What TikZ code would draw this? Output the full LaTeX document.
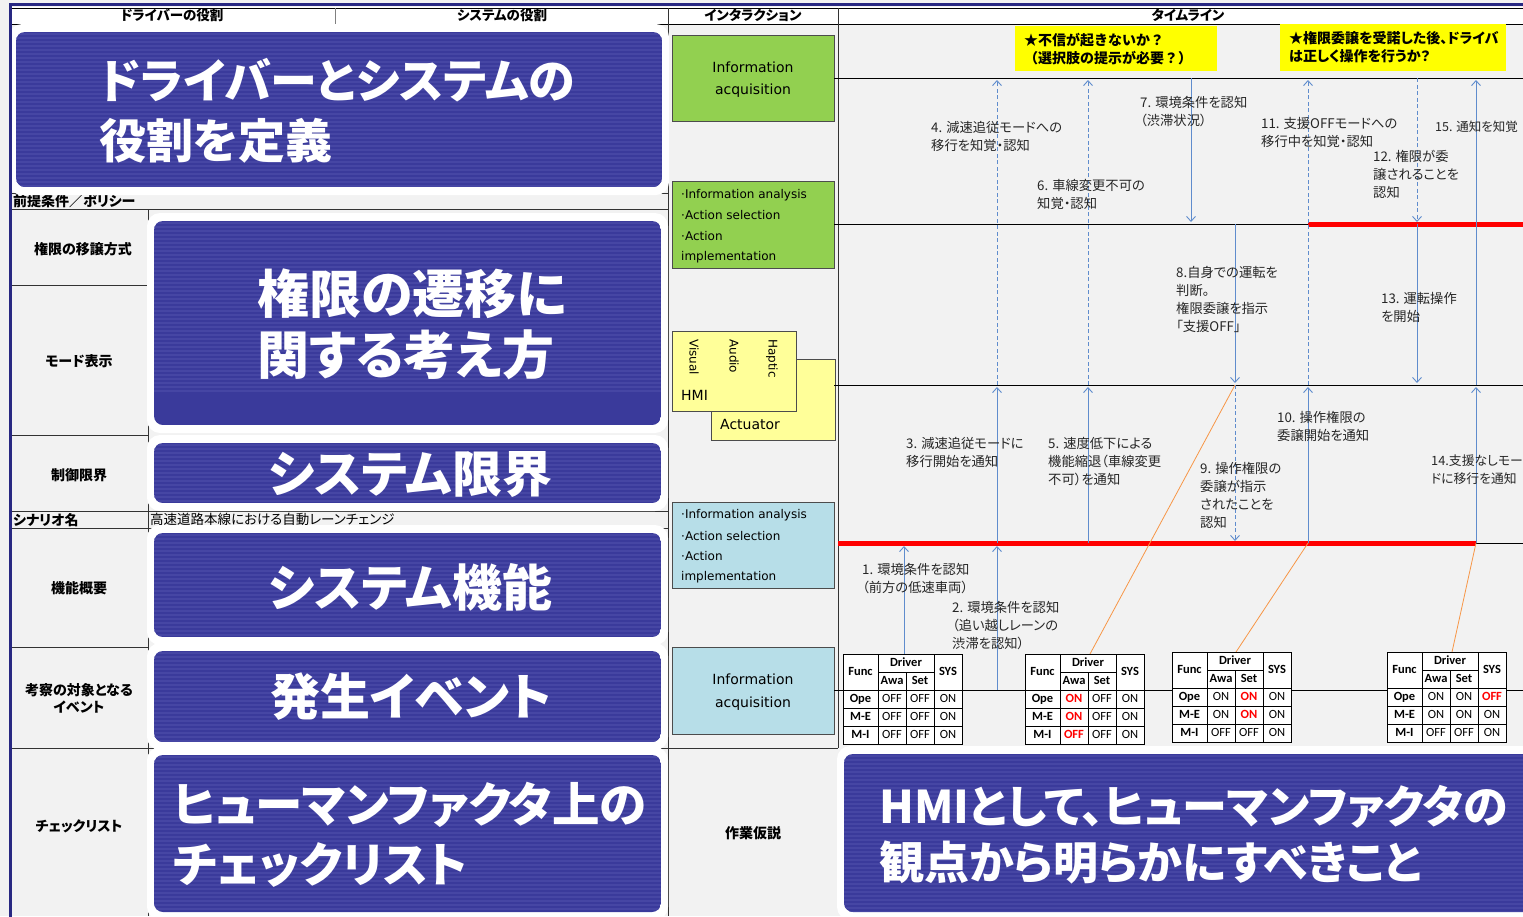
\documentclass[tikz,border=0pt]{standalone}
\usepackage{fontspec}
\setmainfont[RawFeature=+palt]{Noto Sans CJK JP}
\newfontfamily\bigjp[RawFeature=+palt]{Noto Sans CJK JP}
\newfontfamily\fulljp{Noto Sans CJK JP}
\newfontfamily\calf{Carlito}
\newfontfamily\verd{DejaVu Sans}
\usetikzlibrary{arrows.meta}
\definecolor{bg}{RGB}{242,242,242}
\definecolor{navy}{RGB}{58,58,155}
\definecolor{stripe}{RGB}{70,70,164}
\definecolor{framec}{RGB}{40,40,130}
\definecolor{gbox}{RGB}{146,208,80}
\definecolor{bbox}{RGB}{183,222,232}
\definecolor{ybox}{RGB}{255,255,153}
\definecolor{notec}{RGB}{255,255,0}
\definecolor{arrblue}{RGB}{95,140,205}
\definecolor{orng}{RGB}{247,150,70}
\definecolor{redon}{RGB}{255,0,0}
\newcommand{\redv}[1]{\textcolor{redon}{\bfseries #1}}
\newcommand{\bluepanel}[4]{%
  \fill[white, rounded corners=13pt] ({#1-7},{#2-8}) rectangle ({#3+7},{#4+8});
  \begin{scope}
    \clip[rounded corners=9pt] (#1,#2) rectangle (#3,#4);
    \fill[navy] (#1,#2) rectangle (#3,#4);
    \foreach \k in {2,6,...,170} {\draw[stripe, line width=1.2pt] (#1,{#2+\k}) -- (#3,{#2+\k});}
  \end{scope}}
\newcommand{\htab}[6]{%
  \begin{scope}[shift={(#2,#3)}]
    \fill[white] (0,0) rectangle (119,90);
    \draw[tl] (0,0) rectangle (119,90) (35,0) -- (35,90) (91,0) -- (91,90) (63,18) -- (63,90)
      (35,18) -- (91,18) (0,36) -- (119,36) (0,54) -- (119,54) (0,72) -- (119,72);
    \node[th] (#1fn) at (17.5,18) {Func};
    \node[th] (#1dr) at (63,9) {Driver};
    \node[th] (#1sy) at (105,18) {SYS};
    \node[th] (#1aw) at (49,27) {Awa};
    \node[th] (#1st) at (77,27) {Set};
    \node[th] (#1r1) at (17.5,45) {Ope};
    \node[th] (#1r2) at (17.5,63) {M-E};
    \node[th] (#1r3) at (17.5,81) {M-I};
    \foreach \v [count=\c] in {#4} {\node[td] (#1a\c) at ({21+28*\c},45) {\v};}
    \foreach \v [count=\c] in {#5} {\node[td] (#1b\c) at ({21+28*\c},63) {\v};}
    \foreach \v [count=\c] in {#6} {\node[td] (#1c\c) at ({21+28*\c},81) {\v};}
  \end{scope}}
\begin{document}
\begin{tikzpicture}[x=1pt,y=-1pt,
  lbl/.style={anchor=north west, inner sep=0, align=left, font=\fontsize{13.3}{18}\selectfont, text=black!85},
  rowlab/.style={inner sep=0, font=\fontsize{14}{17}\selectfont\bfseries, align=center},
  hdr/.style={inner sep=0, font=\fontsize{13.5}{15}\selectfont\bfseries},
  bigt/.style={anchor=west, inner sep=0, text=white},
  flow/.style={draw=arrblue, line width=0.9pt, -{Straight Barb[length=5pt,width=9pt]}},
  flowd/.style={flow, dash pattern=on 4pt off 2.5pt},
  oline/.style={draw=orng, line width=0.8pt},
  tl/.style={draw=black, line width=0.9pt},
  th/.style={inner sep=0, text height=8pt, text depth=2pt, font=\calf\fontsize{12.5}{12}\selectfont\bfseries},
  td/.style={inner sep=0, text height=8pt, text depth=2pt, font=\calf\fontsize{12.5}{12}\selectfont},
  ibox/.style={draw=black!70, line width=0.9pt, anchor=north west, inner sep=0},
  itxt/.style={inner sep=0, font=\verd\fontsize{14}{16}\selectfont},
  btxt/.style={anchor=west, inner sep=0, font=\verd\fontsize{12}{14}\selectfont},
  notet/.style={anchor=west, inner sep=0, font=\fontsize{14}{15}\selectfont\bfseries},
]
\useasboundingbox (0,0) rectangle (1523,916);
\fill[bg] (0,0) rectangle (1523,916);
\begin{scope}
\clip (0,0) rectangle (1523,916);
% header row
\fill[white] (10,7) rectangle (1523,24);
\draw[black, line width=0.8pt] (10,8) -- (1523,8) (10,24) -- (1523,24);
\draw[black!50, line width=0.6pt] (335,8) -- (335,24);
\draw[black!80, line width=1pt] (668,8) -- (668,916) (838,8) -- (838,748);
\node[hdr] (h1) at (172,15) {ドライバーの役割};
\node[hdr] (h2) at (502,15) {システムの役割};
\node[hdr] (h3) at (753,15) {インタラクション};
\node[hdr] (h4) at (1188,15) {タイムライン};
% left structure lines
\draw[black!80, line width=1pt] (10,193) -- (668,193) (10,209) -- (668,209) (148,209) -- (148,916)
  (10,285) -- (148,285) (10,435) -- (148,435) (10,511) -- (668,511) (10,528) -- (668,528)
  (10,647) -- (148,647) (10,748) -- (838,748);
% scenario row
\fill[bg] (149,512) rectangle (667,527);
\node[rowlab, anchor=west] (pre) at (13,201) {前提条件／ポリシー};
\node[rowlab, anchor=west] (scn) at (13,520) {シナリオ名};
\node[anchor=west, inner sep=0, font=\fontsize{13.5}{15}\selectfont] (scnv) at (150,519) {高速道路本線における自動レーンチェンジ};
\node[rowlab] (r1) at (83,249) {権限の移譲方式};
\node[rowlab] (r2) at (79,361) {モード表示};
\node[rowlab] (r3) at (79,475) {制御限界};
\node[rowlab] (r4) at (79,588) {機能概要};
\node[rowlab] (r5) at (79,698) {考察の対象となる\\イベント};
\node[rowlab] (r6) at (79,826) {チェックリスト};
\node[rowlab] (r7) at (753,833) {作業仮説};
% interaction boxes
\node[ibox, fill=gbox, minimum width=162, minimum height=86] (ia1) at (672,35) {};
\node[itxt] (ia1a) at (753,67) {Information};
\node[itxt] (ia1b) at (753,91) {acquisition};
\node[ibox, fill=gbox, minimum width=162, minimum height=87] (ia2) at (672,181) {};
\node[btxt] (ia2a) at (681,195) {·Information analysis};
\node[btxt] (ia2b) at (681,215) {·Action selection};
\node[btxt] (ia2c) at (681,236) {·Action};
\node[btxt] (ia2d) at (681,257) {implementation};
\node[ibox, fill=ybox, minimum width=124, minimum height=81] (act) at (711,359) {};
\node[ibox, fill=ybox, minimum width=124, minimum height=80] (hmi) at (672,331) {};
\node[itxt, anchor=west] (acta) at (720,424) {Actuator};
\node[itxt, anchor=west] (hmia) at (681,395) {HMI};
\node[rotate=-90, anchor=west, inner sep=0, font=\verd\fontsize{12}{12}\selectfont] (hv) at (694,339) {Visual};
\node[rotate=-90, anchor=west, inner sep=0, font=\verd\fontsize{12}{12}\selectfont] (ha) at (734,339) {Audio};
\node[rotate=-90, anchor=west, inner sep=0, font=\verd\fontsize{12}{12}\selectfont] (hh) at (772,339) {Haptic};
\node[ibox, fill=bbox, minimum width=162, minimum height=86] (ib1) at (672,502) {};
\node[btxt] (ib1a) at (681,515) {·Information analysis};
\node[btxt] (ib1b) at (681,536) {·Action selection};
\node[btxt] (ib1c) at (681,556) {·Action};
\node[btxt] (ib1d) at (681,577) {implementation};
\node[ibox, fill=bbox, minimum width=162, minimum height=87] (ib2) at (672,647) {};
\node[itxt] (ib2a) at (753,679) {Information};
\node[itxt] (ib2b) at (753,704) {acquisition};
% timeline lines
\draw[black, line width=0.9pt] (834,78) -- (1523,78) (834,224) -- (1308,224) (834,385) -- (1523,385)
  (1476,543) -- (1523,543) (834,690) -- (1523,690);
\draw[redon, line width=5pt] (1308,224) -- (1530,224) (838,543) -- (1476,543);
% notes
\node[fill=notec, anchor=north west, minimum width=202, minimum height=45, inner sep=0] (n1) at (1015,26) {};
\node[notet, font=\fulljp\fontsize{14}{15}\selectfont\bfseries] (n1a) at (1024,40) {★不信が起きないか？};
\node[notet, font=\fulljp\fontsize{14}{15}\selectfont\bfseries] (n1b) at (1024,58) {（選択肢の提示が必要？）};
\node[fill=notec, anchor=north west, minimum width=226, minimum height=47, inner sep=0] (n2) at (1280,24) {};
\node[notet] (n2a) at (1289,38) {★権限委譲を受諾した後、ドライバ};
\node[notet] (n2b) at (1289,56) {は正しく操作を行うか？};
% arrows
\coordinate (a1s) at (904,654); \coordinate (a1e) at (904,546);
\coordinate (a2s) at (997,690); \coordinate (a2e) at (997,546);
\coordinate (a3s) at (997,543); \coordinate (a3e) at (997,387);
\coordinate (a4s) at (997,385); \coordinate (a4e) at (997,80);
\coordinate (a5s) at (1088,543); \coordinate (a5e) at (1088,387);
\coordinate (a6s) at (1088,385); \coordinate (a6e) at (1088,80);
\coordinate (a7s) at (1191,78); \coordinate (a7e) at (1191,222);
\coordinate (a8s) at (1235,224); \coordinate (a8e) at (1235,383);
\coordinate (a9s) at (1235,385); \coordinate (a9e) at (1235,541);
\coordinate (a10s) at (1308,543); \coordinate (a10e) at (1308,387);
\coordinate (a11s) at (1308,385); \coordinate (a11e) at (1308,80);
\coordinate (a12s) at (1417,78); \coordinate (a12e) at (1417,222);
\coordinate (a13s) at (1417,224); \coordinate (a13e) at (1417,383);
\coordinate (a14s) at (1476,543); \coordinate (a14e) at (1476,387);
\coordinate (a15s) at (1476,385); \coordinate (a15e) at (1476,80);
\draw[flow] (a1s) -- (a1e);
\draw[flow] (a2s) -- (a2e);
\draw[flow] (a3s) -- (a3e);
\draw[flowd] (a4s) -- (a4e);
\draw[flow] (a5s) -- (a5e);
\draw[flowd] (a6s) -- (a6e);
\draw[flow] (a7s) -- (a7e);
\draw[flow] (a8s) -- (a8e);
\draw[flowd] (a9s) -- (a9e);
\draw[flow] (a10s) -- (a10e);
\draw[flowd] (a11s) -- (a11e);
\draw[flowd] (a12s) -- (a12e);
\draw[flow] (a13s) -- (a13e);
\draw[flow] (a14s) -- (a14e);
\draw[flow] (a15s) -- (a15e);
% orange lines
\coordinate (o1e) at (1090,654); \coordinate (o2e) at (1236,652); \coordinate (o3e) at (1452,652);
\draw[oline] (a9s) -- (o1e);
\draw[oline] (a10s) -- (o2e);
\draw[oline] (a14s) -- (o3e);
% tables
\htab{ta}{843}{654}{OFF,OFF,ON}{OFF,OFF,ON}{OFF,OFF,ON}
\htab{tb}{1025}{654}{\redv{ON},OFF,ON}{\redv{ON},OFF,ON}{\redv{OFF},OFF,ON}
\htab{tc}{1172}{652}{ON,\redv{ON},ON}{ON,\redv{ON},ON}{OFF,OFF,ON}
\htab{td}{1387}{652}{ON,ON,\redv{OFF}}{ON,ON,ON}{OFF,OFF,ON}
% timeline labels
\node[lbl] (l4) at (931,121) {4. 減速追従モードへの\\移行を知覚・認知};
\node[lbl] (l6) at (1037,179) {6. 車線変更不可の\\知覚・認知};
\node[lbl] (l7) at (1140,96) {7. 環境条件を認知\\（渋滞状況）};
\node[lbl] (l11) at (1261,117) {11. 支援OFFモードへの\\移行中を知覚・認知};
\node[lbl] (l12) at (1373,150) {12. 権限が委\\譲されることを\\認知};
\node[lbl, font=\fontsize{12.5}{18}\selectfont] (l15) at (1435,121) {15. 通知を知覚};
\node[lbl] (l8) at (1176,266) {8.自身での運転を\\判断。\\権限委譲を指示\\「支援OFF」};
\node[lbl] (l13) at (1381,292) {13. 運転操作\\を開始};
\node[lbl] (l3) at (906,437) {3. 減速追従モードに\\移行開始を通知};
\node[lbl] (l5) at (1048,437) {5. 速度低下による\\機能縮退（車線変更\\不可）を通知};
\node[lbl] (l10) at (1277,411) {10. 操作権限の\\委譲開始を通知};
\node[lbl] (l9) at (1200,462) {9. 操作権限の\\委譲が指示\\されたことを\\認知};
\node[lbl, font=\fontsize{12.8}{18}\selectfont] (l14) at (1431,455) {14.支援なしモー\\ドに移行を通知};
\node[lbl] (l1) at (862,563) {1. 環境条件を認知\\（前方の低速車両）};
\node[lbl] (l2) at (952,601) {2. 環境条件を認知\\（追い越しレーンの\\渋滞を認知）};
% blue panels
\bluepanel{16}{32}{662}{187}
\bluepanel{154}{221}{661}{425}
\bluepanel{154}{443}{661}{503}
\bluepanel{154}{533}{661}{637}
\bluepanel{154}{651}{661}{742}
\bluepanel{154}{755}{661}{912}
\bluepanel{844}{754}{1540}{912}
\node[bigt, font=\bigjp\fontsize{47}{47}\selectfont\bfseries] (p1a) at (99,80) {ドライバーとシステムの};
\node[bigt, font=\bigjp\fontsize{47}{47}\selectfont\bfseries] (p1b) at (99,141) {役割を定義};
\node[bigt, font=\bigjp\fontsize{52}{52}\selectfont\bfseries] (p2a) at (257,294) {権限の遷移に};
\node[bigt, font=\bigjp\fontsize{52}{52}\selectfont\bfseries] (p2b) at (257,355) {関する考え方};
\node[bigt, font=\bigjp\fontsize{50}{50}\selectfont\bfseries] (p3) at (268,475) {システム限界};
\node[bigt, font=\bigjp\fontsize{50}{50}\selectfont\bfseries] (p4) at (268,587) {システム機能};
\node[bigt, font=\bigjp\fontsize{50}{50}\selectfont\bfseries] (p5) at (270,697) {発生イベント};
\node[bigt, font=\bigjp\fontsize{47.5}{47.5}\selectfont\bfseries] (p6a) at (173,805) {ヒューマンファクタ上の};
\node[bigt, font=\bigjp\fontsize{47.5}{47.5}\selectfont\bfseries] (p6b) at (173,865) {チェックリスト};
\node[bigt, font=\bigjp\fontsize{45}{45}\selectfont\bfseries] (p7a) at (879,807) {HMIとして、ヒューマンファクタの};
\node[bigt, font=\bigjp\fontsize{45}{45}\selectfont\bfseries] (p7b) at (879,862) {観点から明らかにすべきこと};
% outer frame
\draw[framec, line width=3pt] (10,920) -- (10,4.5) -- (1530,4.5);
\end{scope}
\end{tikzpicture}
\end{document}
